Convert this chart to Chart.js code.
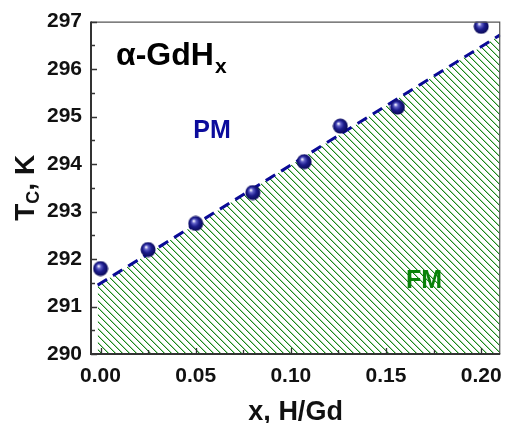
<!DOCTYPE html>
<html>
<head>
<meta charset="utf-8">
<script src="https://cdn.jsdelivr.net/npm/chart.js@4/dist/chart.umd.min.js"></script>
<style>
  html, body { margin: 0; padding: 0; background: #fff; }
  #wrap { width: 512px; height: 423px; }
</style>
</head>
<body>
<div id="wrap"><canvas id="tcChart" width="512" height="423"></canvas></div>
<script>
// measured points, H/Gd vs Curie temperature
const hContent = [0, 0.025, 0.05, 0.08, 0.107, 0.126, 0.156, 0.2];
const tcValues = [291.8, 292.2, 292.75, 293.4, 294.05, 294.8, 295.2, 296.9];
// dashed linear fit (PM / FM boundary)
const fitX = [-0.0015, 0.21];
const fitY = [291.45, 296.72];
// tick labels
const xTicks = [0, 0.05, 0.10, 0.15, 0.20];
const xMinor = [0.025, 0.075, 0.125, 0.175];
const yTicks = [290, 291, 292, 293, 294, 295, 296, 297];
const yMinor = [290.5, 291.5, 292.5, 293.5, 294.5, 295.5, 296.5];

const FONT = "'Liberation Sans', Arial, Helvetica, sans-serif";

// green hatch
function hatch() {
  const c = document.createElement("canvas");
  c.width = 7; c.height = 7;
  const g = c.getContext("2d");
  for (let i = 0; i < 7; i++) {
    g.fillStyle = "#a8d4a8";
    g.fillRect((i + 1) % 7, i, 1, 1);
    g.fillStyle = "#1a861a";
    g.fillRect(i, i, 1, 1);
  }
  return g.createPattern(c, "repeat");
}

// shiny navy ball
function ball() {
  const c = document.createElement("canvas");
  c.width = 16; c.height = 16;
  const g = c.getContext("2d");
  const gr = g.createRadialGradient(6, 5.5, 0.5, 8, 8, 8.5);
  gr.addColorStop(0, "#f0f0ff");
  gr.addColorStop(0.2, "#6060c8");
  gr.addColorStop(0.5, "#1c1c8c");
  gr.addColorStop(1, "#06064a");
  g.fillStyle = gr;
  g.beginPath();
  g.arc(8, 8, 7.5, 0, Math.PI * 2);
  g.fill();
  return c;
}

const frameAndText = {
  id: "frameAndText",
  afterDatasetsDraw(chart) {
    const { ctx, chartArea: a, scales: { x, y } } = chart;
    ctx.save();
    // top and right
    ctx.strokeStyle = "#555";
    ctx.lineWidth = 1.2;
    ctx.beginPath();
    ctx.moveTo(a.left, a.top + 0.5);
    ctx.lineTo(a.right - 0.5, a.top + 0.5);
    ctx.lineTo(a.right - 0.5, a.bottom);
    ctx.stroke();
    // left and bottom
    ctx.strokeStyle = "#333";
    ctx.lineWidth = 2;
    ctx.beginPath();
    ctx.moveTo(a.left, a.top);
    ctx.lineTo(a.left, a.bottom);
    ctx.lineTo(a.right, a.bottom);
    ctx.stroke();
    // inward ticks
    ctx.lineWidth = 1.3;
    ctx.beginPath();
    xTicks.forEach(v => { const p = Math.round(x.getPixelForValue(v)) + 0.5; ctx.moveTo(p, a.bottom); ctx.lineTo(p, a.bottom - 6); });
    xMinor.forEach(v => { const p = Math.round(x.getPixelForValue(v)) + 0.5; ctx.moveTo(p, a.bottom); ctx.lineTo(p, a.bottom - 4); });
    yTicks.forEach(v => { const p = Math.round(y.getPixelForValue(v)) + 0.5; ctx.moveTo(a.left, p); ctx.lineTo(a.left + 6, p); });
    yMinor.forEach(v => { const p = Math.round(y.getPixelForValue(v)) + 0.5; ctx.moveTo(a.left, p); ctx.lineTo(a.left + 4, p); });
    ctx.stroke();
    ctx.restore();
  },
  afterDraw(chart) {
    const { ctx, chartArea: a } = chart;
    ctx.save();
    ctx.textBaseline = "alphabetic";
    // panel label
    ctx.fillStyle = "#000";
    ctx.textAlign = "left";
    ctx.font = "bold 32px " + FONT;
    ctx.fillText("\u03b1-GdH", 116, 65);
    const w = ctx.measureText("\u03b1-GdH").width;
    ctx.font = "bold 21px " + FONT;
    ctx.fillText("x", 116 + w + 1, 73);
    // region labels
    ctx.textAlign = "center";
    ctx.font = "bold 25px " + FONT;
    ctx.fillStyle = "#0c0c9c";
    ctx.fillText("PM", 212, 138);
    ctx.fillStyle = "#0a820a";
    ctx.fillText("FM", 424, 288);
    // x title
    ctx.fillStyle = "#111";
    ctx.font = "bold 27px " + FONT;
    ctx.fillText("x, H/Gd", (a.left + a.right) / 2, 420);
    // y title with subscript
    ctx.translate(34, (a.top + a.bottom) / 2);
    ctx.rotate(-Math.PI / 2);
    ctx.textAlign = "left";
    const big = "bold 28px " + FONT, small = "bold 18px " + FONT;
    ctx.font = big; const wT = ctx.measureText("T").width; const wK = ctx.measureText(", K").width;
    ctx.font = small; const wC = ctx.measureText("C").width;
    let sx = -(wT + wC + wK) / 2;
    ctx.font = big; ctx.fillText("T", sx, 0); sx += wT;
    ctx.font = small; ctx.fillText("C", sx, 5); sx += wC;
    ctx.font = big; ctx.fillText(", K", sx, 0);
    ctx.restore();
  }
};

new Chart(document.querySelector("#tcChart"), {
  type: "scatter",
  data: {
    datasets: [
      {
        label: "Tc",
        data: hContent.map((v, i) => ({ x: v, y: tcValues[i] })),
        pointStyle: ball(),
        pointRadius: 7,
        pointHoverRadius: 7
      },
      {
        label: "fit",
        data: fitX.map((v, i) => ({ x: v, y: fitY[i] })),
        showLine: true,
        borderColor: "#0a0a96",
        borderWidth: 3,
        borderDash: [11, 7],
        pointRadius: 0,
        fill: "start",
        backgroundColor: hatch()
      }
    ]
  },
  plugins: [frameAndText],
  options: {
    responsive: false,
    animation: false,
    events: [],
    layout: { padding: { left: 0, right: 5, top: 20, bottom: 0 } },
    plugins: { legend: { display: false }, tooltip: { enabled: false } },
    scales: {
      x: {
        type: "linear",
        min: -0.005,
        max: 0.21,
        afterFit: s => { s.height = 69; },
        afterBuildTicks: s => { s.ticks = xTicks.map(v => ({ value: v })); },
        grid: { display: false, drawTicks: false },
        border: { display: false },
        ticks: {
          padding: 10,
          color: "#111",
          font: { family: FONT, size: 21, weight: "bold" },
          callback: v => v.toFixed(2)
        }
      },
      y: {
        min: 290,
        max: 297,
        afterFit: s => { s.width = 91; },
        afterBuildTicks: s => { s.ticks = yTicks.map(v => ({ value: v })); },
        grid: { display: false, drawTicks: false },
        border: { display: false },
        ticks: {
          padding: 9,
          color: "#111",
          font: { family: FONT, size: 21, weight: "bold" },
          callback: v => v.toFixed(0)
        }
      }
    }
  }
});
</script>
</body>
</html>
